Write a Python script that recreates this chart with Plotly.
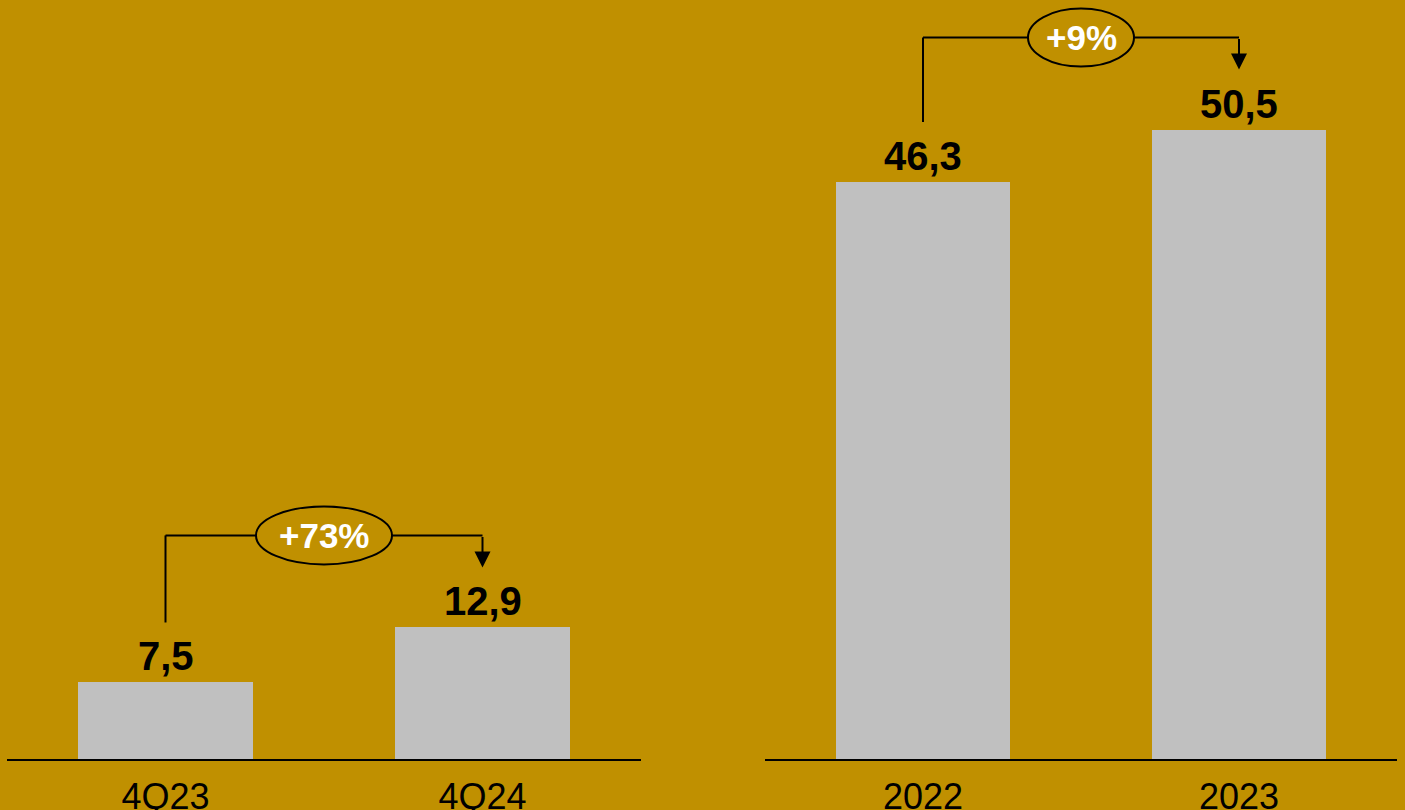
import plotly.graph_objects as go

W, H = 1405, 810

# ---- data ----
left_cats = ["4Q23", "4Q24"]
left_vals = [7.5, 12.9]
left_change = "+73%"

right_cats = ["2022", "2023"]
right_vals = [46.3, 50.5]
right_change = "+9%"

# ---- style ----
BG = "#C09000"
BAR = "#C0C0C0"
FONT = "Liberation Sans, Arial, sans-serif"
BASE_PX = 759  # baseline pixel row
PLOT_H = BASE_PX
YDOM = [(H - BASE_PX) / H, 1.0]

panels = [
    dict(cats=left_cats, vals=left_vals, change=left_change,
         xdom=[7 / W, 641 / W], ymax=74.4, xa="x", ya="y", ell_w=136),
    dict(cats=right_cats, vals=right_vals, change=right_change,
         xdom=[765 / W, 1397 / W], ymax=60.9, xa="x2", ya="y2", ell_w=106),
]

fig = go.Figure()
shapes, annotations = [], []

for i, p in enumerate(panels):
    fig.add_trace(go.Bar(
        x=p["cats"], y=p["vals"], width=0.553, marker=dict(color=BAR, line=dict(width=0)),
        xaxis=p["xa"], yaxis=p["ya"], showlegend=False, hoverinfo="skip",
    ))
    s = PLOT_H / p["ymax"]  # px per unit
    v0, v1 = p["vals"]
    start = v0 + 60 / s
    tip = v1 + 60 / s
    lvl = v1 + 92 / s
    xr, yr = p["xa"], p["ya"]

    # value labels (x given as category index)
    for k, v in enumerate(p["vals"]):
        annotations.append(dict(
            x=k, y=v, xref=xr, yref=yr, text=f"{v:.1f}".replace(".", ","),
            showarrow=False, yanchor="bottom", yshift=2,
            font=dict(family=FONT, size=40, color="black", weight="bold"),
        ))
    # bracket
    line = dict(color="black", width=2)
    shapes.append(dict(type="line", xref=xr, yref=yr, x0=0, x1=0, y0=start, y1=lvl, line=line))
    shapes.append(dict(type="line", xref=xr, yref=yr, x0=0, x1=1, y0=lvl, y1=lvl, line=line))
    annotations.append(dict(
        x=1, y=tip, xref=xr, yref=yr, ax=1, ay=lvl, axref=xr, ayref=yr,
        showarrow=True, arrowhead=2, arrowsize=1.6, arrowwidth=2, arrowcolor="black",
        text="", standoff=0,
    ))
    # ellipse
    hw = p["ell_w"] / 2
    shapes.append(dict(type="circle", xref=xr, yref=yr, xsizemode="pixel", ysizemode="pixel",
                       xanchor=0.5, yanchor=lvl, x0=-hw, x1=hw, y0=-29, y1=29,
                       fillcolor=BG, line=dict(color="black", width=2)))
    annotations.append(dict(
        x=0.5, y=lvl, xref=xr, yref=yr, text=p["change"], showarrow=False,
        font=dict(family=FONT, size=35, color="white", weight="bold"),
    ))

axis_common = dict(showgrid=False, zeroline=False, fixedrange=True)
xaxis_common = dict(type="category", range=[-0.5, 1.5], showline=True, linecolor="black",
                    linewidth=2, ticks="", ticklabelstandoff=5,
                    tickfont=dict(size=36, color="black"), automargin=False, **axis_common)
fig.update_layout(
    width=W, height=H,
    margin=dict(l=0, r=0, t=0, b=0),
    paper_bgcolor=BG, plot_bgcolor=BG,
    font=dict(family=FONT, color="black"),
    bargap=0,
    shapes=shapes, annotations=annotations,
    xaxis=dict(domain=panels[0]["xdom"], anchor="y", **xaxis_common),
    yaxis=dict(domain=YDOM, anchor="x", range=[0, panels[0]["ymax"]], visible=False, **axis_common),
    xaxis2=dict(domain=panels[1]["xdom"], anchor="y2", **xaxis_common),
    yaxis2=dict(domain=YDOM, anchor="x2", range=[0, panels[1]["ymax"]], visible=False, **axis_common),
)

fig.write_html("out.html", config={"displayModeBar": False})
